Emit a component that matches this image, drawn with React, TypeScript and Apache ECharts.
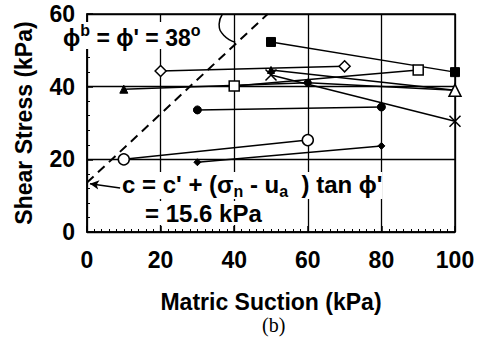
import React, { useEffect, useRef } from "react";
import * as echarts from "echarts";

// Data (matric suction kPa, shear stress kPa)
const openCircle = [[10, 20.0], [60, 25.3]];
const filledDiamond = [[30, 19.2], [80, 23.7]];
const filledCircle = [[30, 33.6], [80, 34.4]];
const openDiamond = [[20, 44.3], [70, 45.6]];
const filledTriangle = [[10, 39.3], [60, 41.1], [100, 39.0]];
const openTriangle = [[50, 44.6], [100, 39.0]];
const crossPts = [[50, 43.2], [100, 30.5]];
const openSquare = [[40, 40.2], [90, 44.6]];
const filledSquare = [[50, 52.3], [100, 44.0]];
const envelope = [[0, 13.6], [49.1, 60]];
const angleArc = [[36.8, 60], [35.9, 57.2], [37.3, 54.0], [40.3, 52.2]];
const arrowFrom = [9.0, 12.1];
const arrowTo = [0.8, 13.3];
const xTicks = [0, 100, 20];
const yTicks = [0, 60, 20];

const FONT = "Liberation Sans, Arial, Helvetica, sans-serif";
const BLACK = "#000";

const openStyle = { color: "#fff", borderColor: BLACK, borderWidth: 1.5 };
const fillStyle = { color: BLACK, borderColor: BLACK, borderWidth: 1 };
const CROSS = "path://M0 0L10 10M10 0L0 10";

function lineSeries(data: number[][], symbol: string, size: number, style: any, extra: any = {}) {
  return {
    type: "line",
    data,
    symbol,
    symbolSize: size,
    showSymbol: true,
    lineStyle: { color: BLACK, width: 1.5 },
    itemStyle: style,
    z: 3,
    ...extra,
  };
}

export default function App() {
  const ref = useRef<HTMLDivElement>(null);
  useEffect(() => {
    if (!ref.current) return;
    const chart = echarts.init(ref.current, null, { renderer: "svg" });
    const axisCommon = {
      axisLine: { lineStyle: { color: BLACK, width: 1.5 } },
      axisTick: { inside: true, length: 6, lineStyle: { color: BLACK, width: 1.5 } },
      minorTick: { show: true, length: 3, lineStyle: { color: BLACK, width: 1 } },
      splitLine: { show: true, lineStyle: { color: BLACK, width: 1.3 } },
      axisLabel: { color: BLACK, fontSize: 23, fontWeight: "bold", fontFamily: FONT },
      nameTextStyle: { color: BLACK, fontSize: 23, fontWeight: "bold", fontFamily: FONT, lineHeight: 22 },
    };
    chart.setOption({
      animation: false,
      backgroundColor: "#fff",
      grid: { left: 87, right: 27, top: 14, bottom: 111, show: true, borderColor: BLACK, borderWidth: 1.5 },
      xAxis: {
        type: "value",
        min: xTicks[0],
        max: xTicks[1],
        interval: xTicks[2],
        name: "Matric Suction (kPa)",
        nameLocation: "middle",
        nameGap: 59,
        ...axisCommon,
        minorTick: { ...axisCommon.minorTick, splitNumber: 10 },
        axisLabel: { ...axisCommon.axisLabel, margin: 16 },
      },
      yAxis: {
        type: "value",
        min: yTicks[0],
        max: yTicks[1],
        interval: yTicks[2],
        name: "Shear Stress (kPa)",
        nameLocation: "middle",
        nameGap: 52,
        ...axisCommon,
        minorTick: { ...axisCommon.minorTick, splitNumber: 5 },
        axisLabel: { ...axisCommon.axisLabel, margin: 12 },
      },
      series: [
        {
          type: "line",
          data: envelope,
          symbol: "none",
          lineStyle: { color: BLACK, width: 2, type: [9, 6] },
          z: 2,
          markLine: {
            silent: true,
            symbol: ["none", "arrow"],
            symbolSize: [7, 9],
            label: { show: false },
            lineStyle: { color: BLACK, width: 1.5, type: "solid" },
            data: [[{ coord: arrowFrom }, { coord: arrowTo }]],
          },
        },
        {
          type: "line",
          data: angleArc,
          symbol: "none",
          smooth: true,
          lineStyle: { color: BLACK, width: 1.5 },
          z: 2,
        },
        lineSeries(openCircle, "circle", 11, openStyle),
        lineSeries(filledDiamond, "diamond", 7, fillStyle),
        lineSeries(filledCircle, "circle", 8, fillStyle),
        lineSeries(openDiamond, "diamond", 11, openStyle),
        {
          ...lineSeries(filledTriangle, "triangle", 7, fillStyle),
          data: filledTriangle.map((p, i) => ({
            value: p,
            symbol: i === 0 ? "triangle" : i === 1 ? "circle" : "none",
            symbolSize: i === 0 ? 8 : 7,
          })),
        },
        {
          ...lineSeries(openTriangle, "triangle", 11, openStyle),
          data: openTriangle.map((p, i) =>
            i === 0
              ? { value: p, symbol: "triangle", symbolSize: 7, itemStyle: fillStyle }
              : { value: p, symbol: "triangle", symbolSize: 12 }
          ),
        },
        lineSeries(crossPts, CROSS, 11, { color: "none", borderColor: BLACK, borderWidth: 1.5 }),
        lineSeries(openSquare, "rect", 10, openStyle),
        lineSeries(filledSquare, "rect", 9, fillStyle),
      ],
      graphic: [
        {
          type: "text",
          left: 63,
          top: 22,
          z: 100,
          style: {
            text: "{a|ϕ}{s|b}{a| = ϕ' = 38}{s|o}",
            backgroundColor: "#fff",
            padding: [0, 2, 0, 0],
            rich: {
              a: { fontSize: 23, fontWeight: "bold", fontFamily: FONT, fill: BLACK, lineHeight: 27, verticalAlign: "bottom" },
              s: { fontSize: 16, fontWeight: "bold", fontFamily: FONT, fill: BLACK, lineHeight: 27, verticalAlign: "top" },
            },
          },
        },
        {
          type: "text",
          left: 122,
          top: 172,
          z: 100,
          style: {
            text: "{a|c = c' + (σ}{b|n}{a| - u}{b|a}{a|  ) tan ϕ'}",
            backgroundColor: "#fff",
            rich: {
              a: { fontSize: 24, fontWeight: "bold", fontFamily: FONT, fill: BLACK, lineHeight: 27, verticalAlign: "top" },
              b: { fontSize: 16, fontWeight: "bold", fontFamily: FONT, fill: BLACK, lineHeight: 27, verticalAlign: "bottom" },
            },
          },
        },
        {
          type: "text",
          left: 145,
          top: 201,
          z: 100,
          style: {
            text: "= 15.6 kPa",
            fontSize: 24,
            lineHeight: 24,
            fontWeight: "bold",
            fontFamily: FONT,
            fill: BLACK,
            backgroundColor: "#fff",
          },
        },
        {
          type: "text",
          left: 262,
          top: 315,
          z: 100,
          style: {
            text: "(b)",
            fontSize: 20,
            lineHeight: 20,
            fontFamily: "Liberation Serif, Times New Roman, serif",
            fill: BLACK,
          },
        },
      ],
    });
    return () => chart.dispose();
  }, []);
  return <div ref={ref} style={{ width: 482, height: 343, position: "absolute", left: 0, top: 0 }} />;
}
